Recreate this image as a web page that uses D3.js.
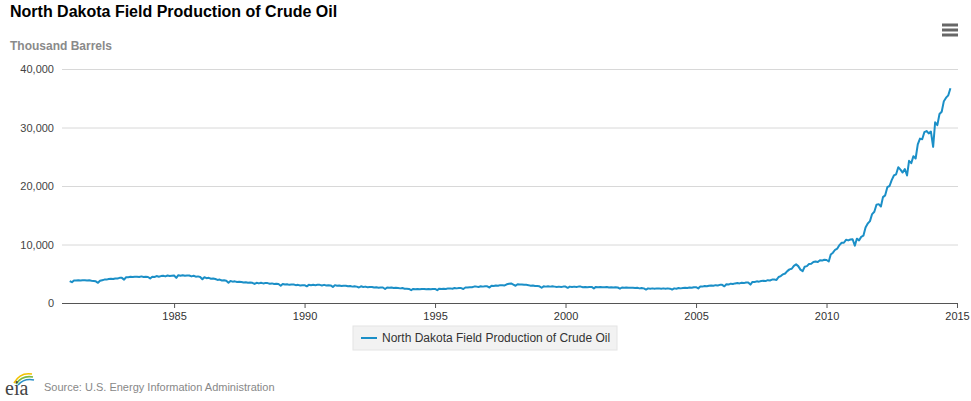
<!DOCTYPE html>
<html>
<head>
<meta charset="utf-8">
<script src="https://cdn.jsdelivr.net/npm/d3@7/dist/d3.min.js"></script>
<style>
  html, body { margin: 0; padding: 0; background: #fff; }
  svg { display: block; font-family: "Liberation Sans", Arial, sans-serif; }
</style>
</head>
<body>
<svg id="chart" width="971" height="401"></svg>
<script>
// ---- Data (thousand barrels per month), Jan 1981 .. Oct 2014 ----
const startYear = 1981;
const y1981 = [3.75, 3.55, 3.85, 3.85, 3.9, 3.85, 3.9, 3.9, 3.85, 3.9, 3.8, 3.75];
const y1982 = [3.7, 3.45, 3.8, 3.9, 4.0, 4.0, 4.1, 4.15, 4.1, 4.2, 4.2, 4.3];
const y1983 = [4.3, 4.0, 4.4, 4.4, 4.5, 4.45, 4.5, 4.5, 4.45, 4.55, 4.45, 4.5];
const y1984 = [4.45, 4.2, 4.5, 4.45, 4.6, 4.5, 4.6, 4.65, 4.55, 4.7, 4.6, 4.65];
const y1985 = [4.7, 4.3, 4.75, 4.65, 4.75, 4.65, 4.7, 4.7, 4.55, 4.65, 4.5, 4.55];
const y1986 = [4.45, 4.05, 4.4, 4.25, 4.3, 4.15, 4.2, 4.1, 3.95, 4.0, 3.85, 3.9];
const y1987 = [3.8, 3.45, 3.75, 3.65, 3.7, 3.6, 3.65, 3.6, 3.5, 3.55, 3.45, 3.5];
const y1988 = [3.45, 3.25, 3.45, 3.35, 3.45, 3.35, 3.4, 3.4, 3.3, 3.35, 3.25, 3.3];
const y1989 = [3.25, 2.95, 3.25, 3.15, 3.2, 3.1, 3.15, 3.15, 3.05, 3.1, 3.0, 3.05];
const y1990 = [3.05, 2.85, 3.1, 3.05, 3.1, 3.05, 3.1, 3.1, 3.0, 3.1, 3.0, 3.05];
const y1991 = [3.0, 2.75, 3.05, 2.95, 3.0, 2.9, 2.95, 2.95, 2.85, 2.9, 2.8, 2.85];
const y1992 = [2.8, 2.65, 2.85, 2.75, 2.8, 2.7, 2.75, 2.75, 2.65, 2.7, 2.6, 2.65];
const y1993 = [2.65, 2.4, 2.65, 2.6, 2.65, 2.55, 2.6, 2.55, 2.5, 2.55, 2.45, 2.45];
const y1994 = [2.4, 2.2, 2.4, 2.35, 2.4, 2.35, 2.4, 2.4, 2.35, 2.4, 2.35, 2.4];
const y1995 = [2.4, 2.2, 2.45, 2.4, 2.45, 2.4, 2.5, 2.5, 2.45, 2.55, 2.5, 2.55];
const y1996 = [2.55, 2.4, 2.65, 2.65, 2.7, 2.7, 2.8, 2.8, 2.75, 2.85, 2.8, 2.85];
const y1997 = [2.85, 2.65, 2.95, 2.9, 3.0, 2.95, 3.05, 3.05, 3.0, 3.2, 3.3, 3.35];
const y1998 = [3.15, 2.95, 3.2, 3.15, 3.15, 3.1, 3.1, 3.05, 2.95, 3.0, 2.9, 2.9];
const y1999 = [2.85, 2.6, 2.85, 2.8, 2.85, 2.8, 2.85, 2.8, 2.75, 2.8, 2.75, 2.8];
const y2000 = [2.8, 2.6, 2.8, 2.75, 2.8, 2.75, 2.8, 2.8, 2.7, 2.75, 2.7, 2.75];
const y2001 = [2.75, 2.5, 2.75, 2.7, 2.75, 2.7, 2.7, 2.75, 2.65, 2.7, 2.65, 2.7];
const y2002 = [2.65, 2.45, 2.65, 2.6, 2.65, 2.6, 2.6, 2.6, 2.55, 2.6, 2.5, 2.55];
const y2003 = [2.5, 2.3, 2.5, 2.45, 2.5, 2.45, 2.5, 2.5, 2.45, 2.5, 2.45, 2.5];
const y2004 = [2.45, 2.3, 2.5, 2.45, 2.55, 2.5, 2.55, 2.6, 2.55, 2.65, 2.6, 2.7];
const y2005 = [2.7, 2.5, 2.8, 2.8, 2.9, 2.85, 2.95, 3.0, 2.95, 3.05, 3.0, 3.1];
const y2006 = [3.1, 2.85, 3.2, 3.15, 3.3, 3.25, 3.35, 3.4, 3.35, 3.45, 3.4, 3.5];
const y2007 = [3.5, 3.15, 3.6, 3.6, 3.7, 3.65, 3.75, 3.8, 3.75, 3.9, 3.85, 4.0];
const y2008 = [4.0, 3.95, 4.45, 4.6, 4.9, 5.05, 5.45, 5.75, 5.85, 6.35, 6.6, 6.3];
const y2009 = [5.7, 5.45, 6.2, 6.3, 6.65, 6.7, 7.0, 7.1, 7.0, 7.3, 7.25, 7.4];
const y2010 = [7.35, 7.1, 8.3, 8.6, 9.1, 9.3, 9.9, 10.3, 10.3, 10.8, 10.7, 10.85];
const y2011 = [10.9, 9.8, 11.0, 10.7, 11.3, 11.5, 12.9, 13.6, 14.0, 15.2, 15.6, 16.8];
const y2012 = [16.9, 16.5, 18.1, 18.4, 19.8, 20.0, 21.0, 21.8, 22.0, 23.2, 22.8, 22.3];
const y2013 = [22.9, 21.8, 24.3, 23.9, 25.1, 24.7, 27.1, 28.1, 28.0, 29.2, 29.4, 29.0];
const y2014 = [29.3, 26.7, 30.9, 30.4, 32.3, 32.7, 34.5, 35.1, 35.5, 36.7];

const yearly = [y1981, y1982, y1983, y1984, y1985, y1986, y1987, y1988, y1989, y1990,
  y1991, y1992, y1993, y1994, y1995, y1996, y1997, y1998, y1999, y2000,
  y2001, y2002, y2003, y2004, y2005, y2006, y2007, y2008, y2009, y2010,
  y2011, y2012, y2013, y2014];

const xTickYears = [1985, 1990, 1995, 2000, 2005, 2010, 2015];
const yTickValues = [0, 10000, 20000, 30000, 40000];

const title = "North Dakota Field Production of Crude Oil";
const yAxisTitle = "Thousand Barrels";
const seriesName = "North Dakota Field Production of Crude Oil";
const sourceText = "Source: U.S. Energy Information Administration";

// ---- Build series ----
const series = [];
yearly.forEach((arr, yi) => {
  arr.forEach((v, m) => {
    series.push({ date: new Date(startYear + yi, m, 1), value: v * 1000 });
  });
});

const svg = d3.select("#chart");
const plotL = 62, plotR = 958, plotT = 69, plotB = 303;
const lineColor = "#1b8fc7";

const x = d3.scaleTime()
  .domain([new Date(1980, 8, 15), new Date(2015, 0, 15)])
  .range([plotL, plotR]);
const y = d3.scaleLinear().domain([0, 40000]).range([plotB, plotT]);

// Title
svg.append("text").attr("x", 10).attr("y", 17)
  .attr("font-size", 16).attr("font-weight", "bold").attr("fill", "#000")
  .text(title);
svg.append("text").attr("x", 10).attr("y", 50)
  .attr("font-size", 12).attr("font-weight", "bold").attr("fill", "#8a8a8a")
  .text(yAxisTitle);

// Menu icon
const menu = svg.append("g").attr("stroke", "#666").attr("stroke-width", 3);
[25, 30, 35].forEach(yy => {
  menu.append("line").attr("x1", 942).attr("x2", 958).attr("y1", yy).attr("y2", yy);
});

// Grid lines + y labels
const yAxis = d3.axisLeft(y).tickValues(yTickValues)
  .tickSize(-(plotR - plotL)).tickPadding(8)
  .tickFormat(d3.format(","));
const gy = svg.append("g").attr("transform", `translate(${plotL},0)`).call(yAxis);
gy.select(".domain").remove();
gy.selectAll(".tick line").attr("stroke", "#d8d8d8");
gy.selectAll(".tick text").attr("font-size", 11).attr("fill", "#444")
  .attr("font-family", "Liberation Sans, Arial, sans-serif");

// X axis
const xAxis = d3.axisBottom(x)
  .tickValues(xTickYears.map(yr => new Date(yr, 0, 1)))
  .tickSize(5).tickPadding(4)
  .tickFormat(d3.timeFormat("%Y"));
const gx = svg.append("g").attr("transform", `translate(0,${plotB})`).call(xAxis);
gx.select(".domain").attr("stroke", "#555").attr("d", `M${plotL},0.5H${plotR}`);
gx.selectAll(".tick line").attr("stroke", "#555");
gx.selectAll(".tick text").attr("font-size", 11).attr("fill", "#333")
  .attr("font-family", "Liberation Sans, Arial, sans-serif");

// Line
const line = d3.line().x(d => x(d.date)).y(d => y(d.value));
svg.append("path").datum(series)
  .attr("fill", "none").attr("stroke", lineColor).attr("stroke-width", 2)
  .attr("stroke-linejoin", "round")
  .attr("d", line);

// Legend
const lg = svg.append("g");
lg.append("rect").attr("x", 353).attr("y", 326).attr("width", 264).attr("height", 24)
  .attr("fill", "#f2f2f2").attr("stroke", "#e4e4e4");
lg.append("line").attr("x1", 361).attr("x2", 377).attr("y1", 338).attr("y2", 338)
  .attr("stroke", lineColor).attr("stroke-width", 2);
lg.append("text").attr("x", 382).attr("y", 342).attr("font-size", 12).attr("fill", "#333")
  .text(seriesName);

// Footer logo
const logo = svg.append("g");
logo.append("path").attr("d", "M14,383 Q20,372 32,374").attr("fill", "none")
  .attr("stroke", "#f2c200").attr("stroke-width", 1.6);
logo.append("path").attr("d", "M16,384 Q22,375 33,377").attr("fill", "none")
  .attr("stroke", "#7cb842").attr("stroke-width", 1.6);
logo.append("path").attr("d", "M18,385 Q24,378 34,380").attr("fill", "none")
  .attr("stroke", "#2a8fc7").attr("stroke-width", 1.6);
logo.append("text").attr("x", 5).attr("y", 395).attr("font-size", 20)
  .attr("font-family", "Liberation Serif, Times New Roman, serif").attr("fill", "#444")
  .text("eia");
svg.append("text").attr("x", 44).attr("y", 391).attr("font-size", 11).attr("fill", "#888")
  .text(sourceText);
</script>
</body>
</html>
